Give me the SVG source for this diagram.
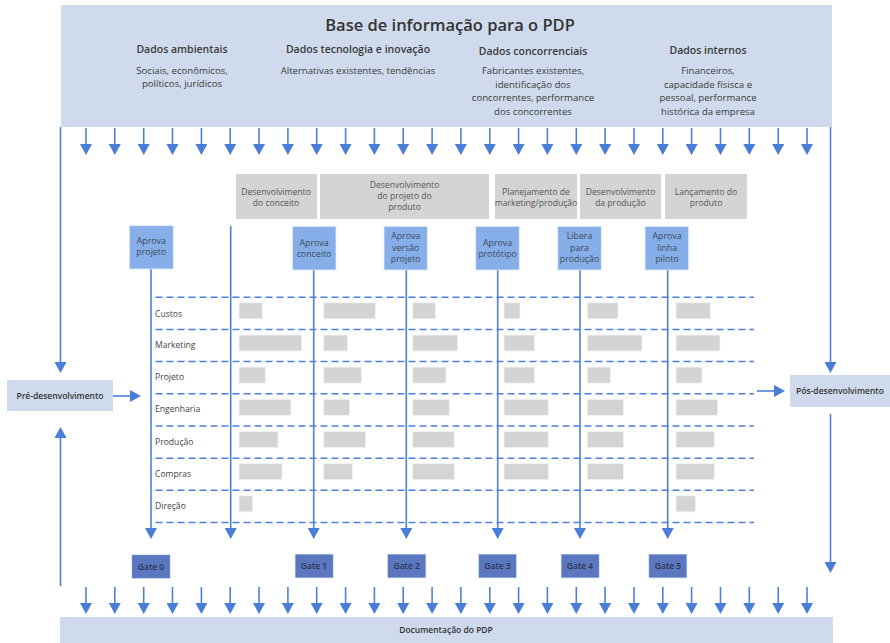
<svg xmlns="http://www.w3.org/2000/svg" width="890" height="643" viewBox="0 0 890 643">
  <style>
    text { font-family: "Open Sans", "Noto Sans", "DejaVu Sans", sans-serif; fill: #3a3a3a; text-anchor: middle; }
    .title { font-size: 16.5px; font-weight: 600; fill: #333; }
    .head { font-size: 10.5px; font-weight: 600; }
    .body { font-size: 9.6px; }
    .phase { fill: #d4d4d4; }
    .phase-t { font-size: 8.6px; fill: #555; }
    .appr { fill: #86aee9; stroke: #e6eefa; stroke-width: 0.8; }
    .appr-t { font-size: 8.8px; fill: #3f4a5a; }
    .gate { fill: #5b77c0; stroke: #e6eefa; stroke-width: 0.8; }
    .gate-t { font-size: 8.5px; font-weight: 600; fill: #2f3550; }
    .row-t { font-size: 8.6px; fill: #444; text-anchor: start; }
    .bar { fill: #d4d4d4; stroke: #f2f2f2; stroke-width: 0.8; }
    .band { fill: #cfdbed; }
    .side-t { font-size: 8.5px; font-weight: 600; fill: #333; }
    .arr { stroke: #4d80da; stroke-width: 1.6; fill: none; marker-end: url(#head); }
    .dash { stroke: #4d80da; stroke-width: 1.5; stroke-dasharray: 7 4; fill: none; }
  </style>
  <defs>
    <marker id="head" viewBox="0 0 11 12" markerWidth="11" markerHeight="12" refX="0" refY="6" orient="auto" markerUnits="userSpaceOnUse">
      <path d="M0,0 L11,6 L0,12 z" fill="#4a7dd8"/>
    </marker>
  </defs>

  <rect width="890" height="643" fill="#ffffff"/>

  <!-- Information base band -->
  <g id="base-info">
    <rect class="band" x="61" y="5" width="771" height="122"/>
    <text class="title" x="450" y="31">Base de informação para o PDP</text>
    <text class="head" x="182" y="53">Dados ambientais</text>
    <text class="body" x="182" y="74">Sociais, econômicos,</text>
    <text class="body" x="182" y="87">políticos, jurídicos</text>
    <text class="head" x="358" y="53">Dados tecnologia e inovação</text>
    <text class="body" x="358" y="74">Alternativas existentes, tendências</text>
    <text class="head" x="533" y="55">Dados concorrenciais</text>
    <text class="body" x="533" y="74">Fabricantes existentes,</text>
    <text class="body" x="533" y="87.5">identificação dos</text>
    <text class="body" x="533" y="101">concorrentes, performance</text>
    <text class="body" x="533" y="114.5">dos concorrentes</text>
    <text class="head" x="708" y="54">Dados internos</text>
    <text class="body" x="708" y="74">Financeiros,</text>
    <text class="body" x="708" y="87.5">capacidade físisca e</text>
    <text class="body" x="708" y="101">pessoal, performance</text>
    <text class="body" x="708" y="114.5">histórica da empresa</text>
  </g>

  <!-- Documentation band -->
  <g id="documentacao">
    <rect class="band" x="60" y="617" width="773" height="26"/>
    <text class="side-t" x="446" y="633">Documentação do PDP</text>
  </g>

  <!-- Pre / post development -->
  <g id="pre-desenvolvimento">
    <rect class="band" x="7" y="380" width="106" height="31"/>
    <text class="side-t" x="60" y="399">Pré-desenvolvimento</text>
  </g>
  <g id="pos-desenvolvimento">
    <rect class="band" x="790" y="375" width="100" height="32"/>
    <text class="side-t" x="840" y="394">Pós-desenvolvimento</text>
  </g>

  <!-- Phases -->
  <g id="fase-conceito">
    <rect class="phase" x="236" y="174" width="81" height="45"/>
    <text class="phase-t" x="276" y="194.5">Desenvolvimento</text>
    <text class="phase-t" x="276" y="205.5">do conceito</text>
  </g>
  <g id="fase-projeto">
    <rect class="phase" x="320" y="174" width="169" height="45"/>
    <text class="phase-t" x="404.5" y="188">Desenvolvimento</text>
    <text class="phase-t" x="404.5" y="199">do projeto do</text>
    <text class="phase-t" x="404.5" y="210">produto</text>
  </g>
  <g id="fase-planejamento">
    <rect class="phase" x="495" y="174" width="82" height="45"/>
    <text class="phase-t" x="536" y="194.5">Planejamento de</text>
    <text class="phase-t" x="536" y="205.5">marketing/produção</text>
  </g>
  <g id="fase-producao">
    <rect class="phase" x="580" y="174" width="81" height="45"/>
    <text class="phase-t" x="620.5" y="194.5">Desenvolvimento</text>
    <text class="phase-t" x="620.5" y="205.5">da produção</text>
  </g>
  <g id="fase-lancamento">
    <rect class="phase" x="665" y="174" width="82" height="45"/>
    <text class="phase-t" x="706" y="194.5">Lançamento do</text>
    <text class="phase-t" x="706" y="205.5">produto</text>
  </g>

  <!-- Functional rows: dashed separators -->
  <g id="linhas">
    <path class="dash" d="M155.5,297.3H754 M155.5,329.5H754 M155.5,361.6H754 M155.5,393.8H754 M155.5,426H754 M155.5,458.2H754 M155.5,490.3H754 M155.5,522.4H754"/>
  </g>

  <g id="funcoes">
    <text class="row-t" x="155" y="317">Custos</text>
    <text class="row-t" x="155" y="348.3">Marketing</text>
    <text class="row-t" x="155" y="380.3">Projeto</text>
    <text class="row-t" x="155" y="412.3">Engenharia</text>
    <text class="row-t" x="155" y="444.7">Produção</text>
    <text class="row-t" x="155" y="476.7">Compras</text>
    <text class="row-t" x="155" y="508.7">Direção</text>
  </g>

  <!-- Activity bars per phase and function -->
  <g id="atividades">
    <!-- column 1 -->
    <rect class="bar" x="239" y="302.8" width="23.3" height="16"/>
    <rect class="bar" x="239" y="335" width="62.7" height="16"/>
    <rect class="bar" x="239" y="367.1" width="26.3" height="16"/>
    <rect class="bar" x="239" y="399.3" width="52" height="16"/>
    <rect class="bar" x="239" y="431.5" width="39" height="16"/>
    <rect class="bar" x="239" y="463.7" width="43" height="16"/>
    <rect class="bar" x="239" y="495.8" width="13.7" height="16"/>
    <!-- column 2 -->
    <rect class="bar" x="323.7" y="302.8" width="51.7" height="16"/>
    <rect class="bar" x="323.7" y="335" width="23.7" height="16"/>
    <rect class="bar" x="323.7" y="367.1" width="37.7" height="16"/>
    <rect class="bar" x="323.7" y="399.3" width="26" height="16"/>
    <rect class="bar" x="323.7" y="431.5" width="42" height="16"/>
    <rect class="bar" x="323.7" y="463.7" width="28.7" height="16"/>
    <!-- column 3 -->
    <rect class="bar" x="412.7" y="302.8" width="22.7" height="16"/>
    <rect class="bar" x="412.7" y="335" width="45" height="16"/>
    <rect class="bar" x="412.7" y="367.1" width="33.3" height="16"/>
    <rect class="bar" x="412.7" y="399.3" width="36.6" height="16"/>
    <rect class="bar" x="412.7" y="431.5" width="41.6" height="16"/>
    <rect class="bar" x="412.7" y="463.7" width="41.6" height="16"/>
    <!-- column 4 -->
    <rect class="bar" x="504" y="302.8" width="16" height="16"/>
    <rect class="bar" x="504" y="335" width="30.7" height="16"/>
    <rect class="bar" x="504" y="367.1" width="30.7" height="16"/>
    <rect class="bar" x="504" y="399.3" width="44.3" height="16"/>
    <rect class="bar" x="504" y="431.5" width="44.3" height="16"/>
    <rect class="bar" x="504" y="463.7" width="44.3" height="16"/>
    <!-- column 5 -->
    <rect class="bar" x="587.3" y="302.8" width="30.7" height="16"/>
    <rect class="bar" x="587.3" y="335" width="54.7" height="16"/>
    <rect class="bar" x="587.3" y="367.1" width="23.3" height="16"/>
    <rect class="bar" x="587.3" y="399.3" width="36.3" height="16"/>
    <rect class="bar" x="587.3" y="431.5" width="36.3" height="16"/>
    <rect class="bar" x="587.3" y="463.7" width="36.3" height="16"/>
    <!-- column 6 -->
    <rect class="bar" x="676" y="302.8" width="34.3" height="16"/>
    <rect class="bar" x="676" y="335" width="44" height="16"/>
    <rect class="bar" x="676" y="367.1" width="26" height="16"/>
    <rect class="bar" x="676" y="399.3" width="41.7" height="16"/>
    <rect class="bar" x="676" y="431.5" width="38.3" height="16"/>
    <rect class="bar" x="676" y="463.7" width="38.3" height="16"/>
    <rect class="bar" x="676" y="495.8" width="19.3" height="16"/>
  </g>

  <!-- Connectors -->
  <g id="conectores">
    <!-- information base feeding down -->
    <path class="arr" d="M86,128V144"/><path class="arr" d="M114.8,128V144"/><path class="arr" d="M143.7,128V144"/>
    <path class="arr" d="M172.5,128V144"/><path class="arr" d="M201.4,128V144"/><path class="arr" d="M230.2,128V144"/>
    <path class="arr" d="M259,128V144"/><path class="arr" d="M287.9,128V144"/><path class="arr" d="M316.7,128V144"/>
    <path class="arr" d="M345.6,128V144"/><path class="arr" d="M374.4,128V144"/><path class="arr" d="M403.2,128V144"/>
    <path class="arr" d="M432.1,128V144"/><path class="arr" d="M460.9,128V144"/><path class="arr" d="M489.8,128V144"/>
    <path class="arr" d="M518.6,128V144"/><path class="arr" d="M547.4,128V144"/><path class="arr" d="M576.3,128V144"/>
    <path class="arr" d="M605.1,128V144"/><path class="arr" d="M634,128V144"/><path class="arr" d="M662.8,128V144"/>
    <path class="arr" d="M691.6,128V144"/><path class="arr" d="M720.5,128V144"/><path class="arr" d="M749.3,128V144"/>
    <path class="arr" d="M778.2,128V144"/><path class="arr" d="M807,128V144"/>

    <!-- documentation fed from the process -->
    <path class="arr" d="M86,587V603"/><path class="arr" d="M114.8,587V603"/><path class="arr" d="M143.7,587V603"/>
    <path class="arr" d="M172.5,587V603"/><path class="arr" d="M201.4,587V603"/><path class="arr" d="M230.2,587V603"/>
    <path class="arr" d="M259,587V603"/><path class="arr" d="M287.9,587V603"/><path class="arr" d="M316.7,587V603"/>
    <path class="arr" d="M345.6,587V603"/><path class="arr" d="M374.4,587V603"/><path class="arr" d="M403.2,587V603"/>
    <path class="arr" d="M432.1,587V603"/><path class="arr" d="M460.9,587V603"/><path class="arr" d="M489.8,587V603"/>
    <path class="arr" d="M518.6,587V603"/><path class="arr" d="M547.4,587V603"/><path class="arr" d="M576.3,587V603"/>
    <path class="arr" d="M605.1,587V603"/><path class="arr" d="M634,587V603"/><path class="arr" d="M662.8,587V603"/>
    <path class="arr" d="M691.6,587V603"/><path class="arr" d="M720.5,587V603"/><path class="arr" d="M749.3,587V603"/>
    <path class="arr" d="M778.2,587V603"/><path class="arr" d="M807,587V603"/>

    <!-- pre-development side -->
    <path class="arr" d="M60.5,127V362"/>
    <path class="arr" d="M60.5,586V438"/>
    <path class="arr" d="M113,396H130"/>

    <!-- post-development side -->
    <path class="arr" d="M830.5,127V362"/>
    <path class="arr" d="M830.5,414V562"/>
    <path class="arr" d="M757,391H774"/>

    <!-- decision lines to gates -->
    <path class="arr" d="M151,269V528"/>
    <path class="arr" d="M230.7,226V528"/>
    <path class="arr" d="M313.7,270V528"/>
    <path class="arr" d="M406.3,270V528"/>
    <path class="arr" d="M497.7,270V528"/>
    <path class="arr" d="M580,270V528"/>
    <path class="arr" d="M667.7,270V528"/>
  </g>

  <!-- Approval decisions -->
  <g id="aprova-projeto">
    <rect class="appr" x="129.3" y="225.7" width="44" height="43.3"/>
    <text class="appr-t" x="151.3" y="244">Aprova</text>
    <text class="appr-t" x="151.3" y="255">projeto</text>
  </g>
  <g id="aprova-conceito">
    <rect class="appr" x="292.3" y="226.3" width="43.7" height="43.7"/>
    <text class="appr-t" x="314" y="245.7">Aprova</text>
    <text class="appr-t" x="314" y="256.7">conceito</text>
  </g>
  <g id="aprova-versao">
    <rect class="appr" x="384" y="226.3" width="43.3" height="43.7"/>
    <text class="appr-t" x="405.7" y="239.3">Aprova</text>
    <text class="appr-t" x="405.7" y="251">versão</text>
    <text class="appr-t" x="405.7" y="262">projeto</text>
  </g>
  <g id="aprova-prototipo">
    <rect class="appr" x="475.7" y="226.3" width="43.6" height="43.7"/>
    <text class="appr-t" x="497.5" y="245.7">Aprova</text>
    <text class="appr-t" x="497.5" y="256.7">protótipo</text>
  </g>
  <g id="libera-producao">
    <rect class="appr" x="557.7" y="226.3" width="43.6" height="43.7"/>
    <text class="appr-t" x="579.5" y="239.3">Libera</text>
    <text class="appr-t" x="579.5" y="251">para</text>
    <text class="appr-t" x="579.5" y="262">produção</text>
  </g>
  <g id="aprova-piloto">
    <rect class="appr" x="645" y="226.3" width="43.7" height="43.7"/>
    <text class="appr-t" x="667" y="239.3">Aprova</text>
    <text class="appr-t" x="667" y="251">linha</text>
    <text class="appr-t" x="667" y="262">piloto</text>
  </g>

  <!-- Gates -->
  <g id="gate-0">
    <rect class="gate" x="131.7" y="554.7" width="38.6" height="24"/>
    <text class="gate-t" x="151" y="570">Gate 0</text>
  </g>
  <g id="gate-1">
    <rect class="gate" x="295" y="554" width="38.3" height="24"/>
    <text class="gate-t" x="314" y="569.3">Gate 1</text>
  </g>
  <g id="gate-2">
    <rect class="gate" x="387.3" y="554" width="38.7" height="24"/>
    <text class="gate-t" x="406.7" y="569.3">Gate 2</text>
  </g>
  <g id="gate-3">
    <rect class="gate" x="478.3" y="554" width="38.4" height="24"/>
    <text class="gate-t" x="497.5" y="569.3">Gate 3</text>
  </g>
  <g id="gate-4">
    <rect class="gate" x="561" y="554" width="38.3" height="24"/>
    <text class="gate-t" x="580" y="569.3">Gate 4</text>
  </g>
  <g id="gate-5">
    <rect class="gate" x="648.7" y="554" width="38.3" height="24"/>
    <text class="gate-t" x="668" y="569.3">Gate 5</text>
  </g>
</svg>
